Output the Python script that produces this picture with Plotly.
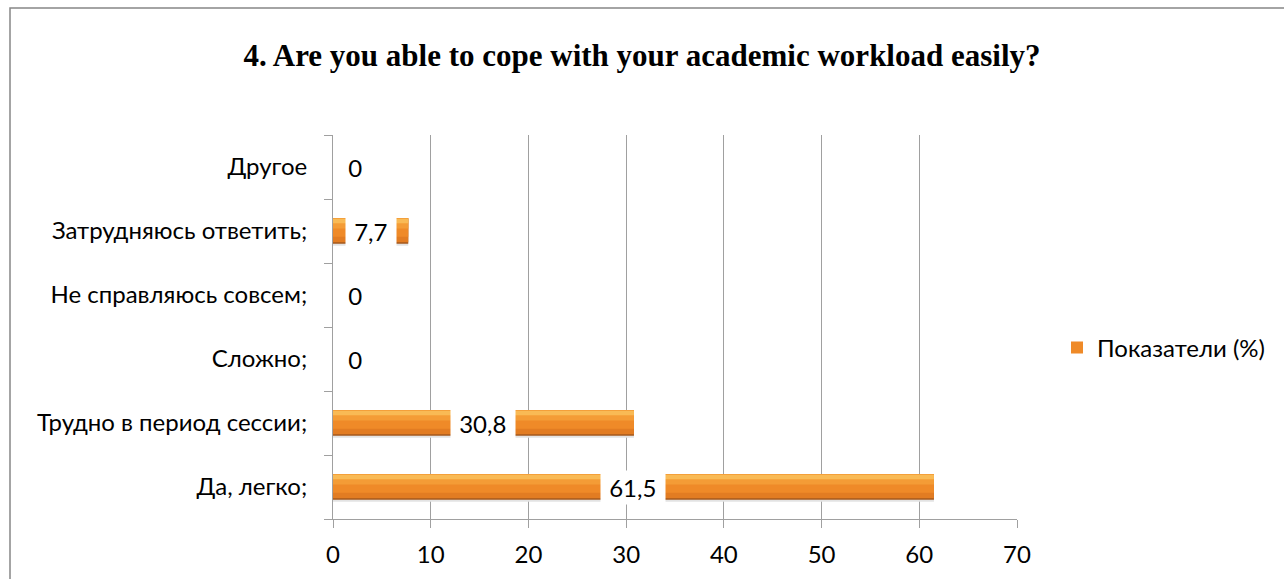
import plotly.graph_objects as go

# survey answers, bottom to top as drawn
answers = ["Да, легко;", "Трудно в период сессии;", "Сложно;",
           "Не справляюсь совсем;", "Затрудняюсь ответить;", "Другое"]
shares = [61.5, 30.8, 0, 0, 7.7, 0]
series_name = "Показатели (%)"
x_ticks = [0, 10, 20, 30, 40, 50, 60, 70]
title_text = "4. Are you able to cope with your academic workload easily?"

label_font = dict(family="Lato, Open Sans, sans-serif", size=24, color="#000000")

fig = go.Figure()

# stacked bands of one bar to fake the bevelled Excel look:
# (offset, width, colour) from bottom to top
bands = [
    (-0.23, 0.43, "#E3E3E3"),
    (-0.2, 0.4, "#A4581D"),
    (-0.175, 0.375, "#E27C22"),
    (-0.09, 0.29, "#EF8A28"),
    (0.04, 0.16, "#F49C36"),
    (0.12, 0.07, "#F9BA55"),
]
for i, (off, w, col) in enumerate(bands):
    main = i == 3
    fig.add_trace(go.Bar(x=shares, y=answers, orientation="h", width=w, offset=off,
                         marker=dict(color=col, line=dict(width=0)),
                         name=series_name, showlegend=main,
                         hoverinfo="x+y" if main else "skip"))

# value labels in white boxes, centred on the bar
for a, v in zip(answers, shares):
    txt = ("%g" % v).replace(".", ",")
    fig.add_annotation(x=v / 2, y=a, text="&nbsp;" + txt + "&nbsp;", showarrow=False,
                       xshift=22 if v == 0 else 0,
                       bgcolor="#FFFFFF", borderpad=2, font=label_font)

# outer frame of the chart object
fig.add_shape(type="rect", xref="paper", yref="paper",
              x0=(10 - 333) / 684, x1=(1300 - 333) / 684,
              y0=(519 - 600) / 384, y1=(519 - 8) / 384,
              line=dict(color="#878787", width=1.5), layer="below")

fig.update_layout(
    width=1284, height=579,
    margin=dict(l=333, r=267, t=135, b=60),
    paper_bgcolor="#FFFFFF", plot_bgcolor="#FFFFFF",
    barmode="overlay",
    title=dict(text="<b>" + title_text + "</b>", x=0.5, xanchor="center",
               y=1 - 55 / 579, yanchor="middle",
               font=dict(family="Liberation Serif, Times New Roman, serif", size=31, color="#000000")),
    legend=dict(x=(1057 - 333) / 684, xanchor="left", y=(519 - 348) / 384, yanchor="middle",
                font=label_font, bgcolor="rgba(0,0,0,0)", itemwidth=30),
    showlegend=True,
    font=label_font,
)
fig.update_xaxes(range=[0, 70], tickvals=x_ticks, showgrid=True, gridcolor="#A0A0A0", gridwidth=1,
                 zeroline=False, showline=True, linecolor="#A0A0A0", linewidth=1,
                 ticks="outside", ticklen=8, tickcolor="#A0A0A0",
                 ticklabelstandoff=6, tickfont=label_font, fixedrange=True)
fig.update_yaxes(type="category", categoryorder="array", categoryarray=answers,
                 showgrid=False, zeroline=False, showline=True, linecolor="#A0A0A0", linewidth=1,
                 ticks="outside", ticklen=8, tickcolor="#A0A0A0", tickson="boundaries",
                 ticklabelstandoff=20, tickfont=label_font, fixedrange=True)

# the page has a default 8px body margin; drop it so the chart sits at 0,0
fig.write_html("out.html", config={"displayModeBar": False},
               post_script="document.body.style.margin='0';")
